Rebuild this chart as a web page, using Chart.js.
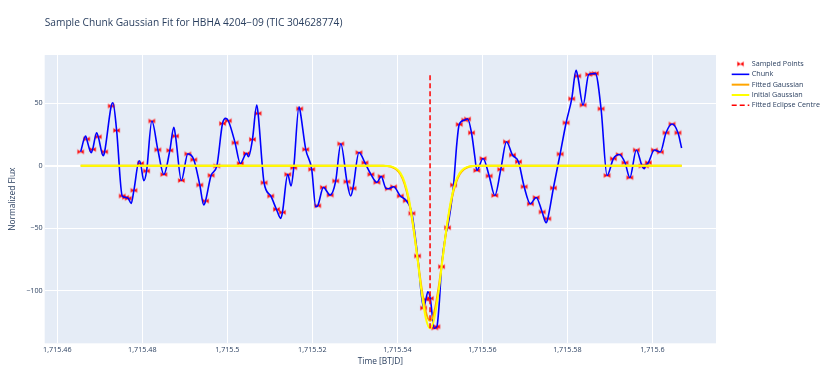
<!DOCTYPE html>
<html>
<head>
<meta charset="utf-8">
<title>Sample Chunk Gaussian Fit</title>
<script src="https://cdn.jsdelivr.net/npm/chart.js@4/dist/chart.umd.min.js"></script>
<style>
  html, body { margin: 0; padding: 0; background: #fff; }
  #wrap { width: 830px; height: 388px; }
</style>
</head>
<body>
<div id="wrap"><canvas id="Chart" width="830" height="388"></canvas></div>
<script>
// values
var chunkTime = [1715.4655, 1715.46667, 1715.46691, 1715.46799, 1715.46832, 1715.46926, 1715.46964, 1715.47081, 1715.47114, 1715.47269,
  1715.47309, 1715.47396, 1715.47528, 1715.47607, 1715.47669, 1715.47739, 1715.47802, 1715.47927, 1715.4796, 1715.48037,
  1715.48101, 1715.48225, 1715.48366, 1715.48507, 1715.48648, 1715.48742, 1715.48782, 1715.48919, 1715.49071, 1715.49212,
  1715.49353, 1715.49447, 1715.49487, 1715.49619, 1715.49753, 1715.49887, 1715.49964, 1715.50023, 1715.50183, 1715.50305,
  1715.50451, 1715.50498, 1715.50592, 1715.50693, 1715.50724, 1715.50865, 1715.51022, 1715.51156, 1715.51257, 1715.51297,
  1715.51422, 1715.51499, 1715.51563, 1715.51687, 1715.51704, 1715.51845, 1715.51986, 1715.5208, 1715.52127, 1715.5226,
  1715.5242, 1715.5255, 1715.5267, 1715.52815, 1715.52902, 1715.52956, 1715.53097, 1715.53238, 1715.53379, 1715.5352,
  1715.5362, 1715.53732, 1715.53788, 1715.53913, 1715.5407, 1715.54211, 1715.54343, 1715.54477, 1715.54617, 1715.54672,
  1715.54719, 1715.54775, 1715.54869, 1715.5493, 1715.54986, 1715.5504, 1715.55142, 1715.55181, 1715.55322, 1715.554,
  1715.55456, 1715.55588, 1715.55651, 1715.55745, 1715.55823, 1715.5587, 1715.56016, 1715.56161, 1715.56293, 1715.56434,
  1715.56568, 1715.56709, 1715.5685, 1715.56984, 1715.5713, 1715.57266, 1715.57407, 1715.57501, 1715.57539, 1715.57672,
  1715.5783, 1715.57971, 1715.58103, 1715.58206, 1715.58244, 1715.5837, 1715.58502, 1715.58596, 1715.58659, 1715.58793,
  1715.58934, 1715.59082, 1715.5922, 1715.59357, 1715.5947, 1715.59623, 1715.59757, 1715.59811, 1715.59835, 1715.59905,
  1715.60046, 1715.60187, 1715.60321, 1715.60462, 1715.60603, 1715.60688];
var chunkFlux = [11.2, 23.8, 21.4, 10.4, 13.1, 26.4, 23.2, 8.0, 11.2, 47.8,
  50.4, 28.3, -24.2, -25.3, -26.1, -30.1, -19.7, 4.0, 1.9, -12.0,
  -4.2, 35.8, 12.8, -7.0, 12.3, 30.7, 23.8, -11.8, 9.5, 4.8,
  -15.4, -31.4, -28.2, -7.7, -0.2, 33.8, 37.9, 36.0, 18.4, 1.8,
  9.9, 7.2, 21.1, 48.6, 41.9, -13.6, -24.2, -34.9, -42.1, -37.3,
  -6.9, -16.2, -1.6, 47.2, 45.6, 13.1, -2.9, -32.8, -32.0, -17.3,
  -23.5, -12.2, 17.6, -12.8, -24.2, -18.1, 10.6, 2.4, -6.9, -13.3,
  -8.5, -18.1, -18.4, -16.8, -24.2, -28.0, -38.1, -72.2, -113.8, -106.9,
  -100.8, -106.1, -130.1, -128.8, -110.1, -80.8, -54.1, -49.6, -15.4, 17.9,
  33.1, 36.6, 37.6, 26.4, 7.2, -3.8, 5.8, -8.2, -23.8, -2.9,
  19.2, 8.6, 3.2, -16.8, -30.5, -25.4, -37.0, -45.6, -42.4, -17.8,
  9.4, 34.4, 53.6, 76.3, 71.8, 48.6, 73.1, 73.6, 73.9, 45.6,
  -7.8, 5.6, 9.0, 2.4, -9.5, 12.6, -0.2, -2.4, -0.2, 2.4,
  12.6, 11.0, 26.4, 33.4, 26.4, 14.2];

var sampleTime = [1715.4655, 1715.46691, 1715.46832, 1715.46964, 1715.47114, 1715.47269, 1715.47396, 1715.47528, 1715.47607, 1715.47669,
  1715.47802, 1715.4796, 1715.48101, 1715.48225, 1715.48366, 1715.48507, 1715.48648, 1715.48782, 1715.48919, 1715.49071,
  1715.49212, 1715.49353, 1715.49487, 1715.49619, 1715.49753, 1715.49887, 1715.50023, 1715.50183, 1715.50305, 1715.50451,
  1715.50592, 1715.50724, 1715.50865, 1715.51022, 1715.51156, 1715.51297, 1715.51422, 1715.51563, 1715.51704, 1715.51845,
  1715.51986, 1715.52127, 1715.5226, 1715.5242, 1715.5255, 1715.5267, 1715.52815, 1715.52956, 1715.53097, 1715.53238,
  1715.53379, 1715.5352, 1715.5362, 1715.53788, 1715.53913, 1715.5407, 1715.54211, 1715.54343, 1715.54477, 1715.54617,
  1715.54672, 1715.54775, 1715.54883, 1715.5493, 1715.5504, 1715.55181, 1715.55322, 1715.55456, 1715.55588, 1715.55651,
  1715.55745, 1715.5587, 1715.56016, 1715.56161, 1715.56293, 1715.56434, 1715.56568, 1715.56709, 1715.5685, 1715.56984,
  1715.5713, 1715.57266, 1715.57407, 1715.57539, 1715.57672, 1715.5783, 1715.57971, 1715.58103, 1715.58244, 1715.5837,
  1715.58502, 1715.58596, 1715.58659, 1715.58793, 1715.58934, 1715.59082, 1715.5922, 1715.59357, 1715.5947, 1715.59623,
  1715.59757, 1715.59835, 1715.59905, 1715.60046, 1715.60187, 1715.60321, 1715.60462, 1715.60603];
var sampleFlux = [11.2, 21.4, 13.1, 23.2, 11.2, 47.8, 28.3, -24.2, -25.3, -26.1,
  -19.7, 1.9, -4.2, 35.8, 12.8, -7.0, 12.3, 23.8, -11.8, 9.5,
  4.8, -15.4, -28.2, -7.7, -0.2, 33.8, 36.0, 18.4, 1.8, 9.9,
  21.1, 41.9, -13.6, -24.2, -34.9, -37.3, -6.9, -1.6, 45.6, 13.1,
  -2.9, -32.0, -17.3, -23.5, -12.2, 17.6, -12.8, -18.1, 10.6, 2.4,
  -6.9, -13.3, -8.5, -18.4, -16.8, -24.2, -28.0, -38.1, -72.2, -113.8,
  -106.9, -106.1, -129.8, -128.8, -80.8, -49.6, -15.4, 33.1, 36.6, 37.4,
  26.4, -3.8, 5.8, -8.2, -23.8, -2.9, 19.2, 8.6, 3.2, -16.8,
  -30.5, -25.4, -37.0, -42.4, -17.8, 9.4, 34.4, 53.6, 71.8, 48.6,
  73.1, 73.6, 73.9, 45.6, -7.8, 5.6, 9.0, 2.4, -9.5, 12.6,
  -0.2, -0.2, 2.4, 12.6, 11.0, 26.4, 33.4, 26.4];

var gaussTime = [1715.4655, 1715.5367, 1715.5377, 1715.5387, 1715.5397, 1715.5407, 1715.5417, 1715.5427, 1715.5437, 1715.5447,
  1715.5457, 1715.5467, 1715.5477, 1715.5487, 1715.5497, 1715.5507, 1715.5517, 1715.5527, 1715.5537, 1715.5547,
  1715.5557, 1715.5567, 1715.5577, 1715.5587, 1715.6069];
var fittedFlux = [0, 0, -0.3, -1.0, -2.8, -6.7, -14.6, -28.1, -47.9, -72.6,
  -97.7, -116.8, -124, -116.8, -97.7, -72.6, -47.9, -28.1, -14.6, -6.7,
  -2.8, -1.0, -0.3, 0, 0];
var initialFlux = [0, 0, -0.2, -0.7, -2.2, -5.7, -13.1, -26.4, -47, -73,
  -101, -122, -130, -122, -101, -73, -47, -26.4, -13.1, -5.7,
  -2.2, -0.7, -0.2, 0, 0];

var eclipseTime = [1715.5477, 1715.5477];
var eclipseFlux = [-130.1, 74.0];

var xTickValues = [1715.46, 1715.48, 1715.5, 1715.52, 1715.54, 1715.56, 1715.58, 1715.6];
var xTickLabels = ['1,715.46', '1,715.48', '1,715.5', '1,715.52', '1,715.54', '1,715.56', '1,715.58', '1,715.6'];
var yTickValues = [-100, -50, 0, 50];
var yTickLabels = ['\u2212100', '\u221250', '0', '50'];

var seriesNames = ['Sampled Points', 'Chunk', 'Fitted Gaussian', 'Initial Gaussian', 'Fitted Eclipse Centre'];

var textColor = '#2a3f5f';
var fontFamily = '"Open Sans", verdana, arial, sans-serif';

function toPoints(xs, ys) {
  return xs.map(function (x, i) { return { x: x, y: ys[i] }; });
}

// bowtie marker like the plotly symbol
function makeBowtie() {
  var c = document.createElement('canvas');
  c.width = 9;
  c.height = 7;
  var g = c.getContext('2d');
  g.beginPath();
  g.moveTo(1.5, 1.5); g.lineTo(1.5, 5.5); g.lineTo(4.5, 3.5); g.closePath();
  g.moveTo(7.5, 1.5); g.lineTo(7.5, 5.5); g.lineTo(4.5, 3.5); g.closePath();
  g.fillStyle = '#ff0000';
  g.fill();
  g.strokeStyle = 'rgba(255, 0, 0, 0.3)';
  g.lineWidth = 1.2;
  g.stroke();
  return c;
}
var bowtie = makeBowtie();

// light blue plot background
var plotBg = {
  id: 'plotBg',
  beforeDraw: function (chart) {
    var a = chart.chartArea;
    chart.ctx.save();
    chart.ctx.fillStyle = '#E5ECF6';
    chart.ctx.fillRect(a.left, a.top, a.right - a.left, a.bottom - a.top);
    chart.ctx.restore();
  }
};

// legend on the right, placed like the plotly one
var sideLegend = {
  id: 'sideLegend',
  afterDraw: function (chart) {
    var ctx = chart.ctx;
    chart.data.datasets.forEach(function (ds, i) {
      var y = 64 + i * 10.33;
      ctx.save();
      if (ds.showLine === false) {
        ctx.drawImage(bowtie, 740.5 - bowtie.width / 2, y - bowtie.height / 2);
      } else {
        ctx.strokeStyle = ds.borderColor;
        ctx.lineWidth = ds.borderWidth;
        ctx.setLineDash(ds.borderDash || []);
        ctx.beginPath();
        ctx.moveTo(731.7, y);
        ctx.lineTo(749.3, y);
        ctx.stroke();
      }
      ctx.setLineDash([]);
      ctx.fillStyle = textColor;
      ctx.font = '7.2px ' + fontFamily;
      ctx.textBaseline = 'middle';
      ctx.textAlign = 'left';
      ctx.fillText(ds.label, 751.7, y);
      ctx.restore();
    });
  }
};

Chart.defaults.font.family = fontFamily;
Chart.defaults.color = textColor;

var ctx = document.getElementById('Chart').getContext('2d');
var myChart = new Chart(ctx, {
  type: 'line',
  data: {
    datasets: [{
      label: seriesNames[0],
      data: toPoints(sampleTime, sampleFlux),
      showLine: false,
      pointStyle: bowtie,
      pointRadius: 4,
      order: 5
    }, {
      label: seriesNames[1],
      data: toPoints(chunkTime, chunkFlux),
      borderColor: '#0000ff',
      borderWidth: 1.6,
      pointRadius: 0,
      cubicInterpolationMode: 'monotone',
      order: 4
    }, {
      label: seriesNames[2],
      data: toPoints(gaussTime, fittedFlux),
      borderColor: '#ffa500',
      borderWidth: 2,
      pointRadius: 0,
      cubicInterpolationMode: 'monotone',
      order: 3
    }, {
      label: seriesNames[3],
      data: toPoints(gaussTime, initialFlux),
      borderColor: '#ffff00',
      borderWidth: 2,
      pointRadius: 0,
      cubicInterpolationMode: 'monotone',
      order: 2
    }, {
      label: seriesNames[4],
      data: toPoints(eclipseTime, eclipseFlux),
      borderColor: '#ff0000',
      borderWidth: 1.5,
      borderDash: [5, 3],
      pointRadius: 0,
      order: 1
    }]
  },
  options: {
    responsive: false,
    animation: false,
    devicePixelRatio: 1,
    layout: { padding: { left: 0, right: 114, top: 0, bottom: 0 } },
    plugins: {
      legend: { display: false },
      tooltip: { enabled: false },
      title: {
        display: true,
        text: 'Sample Chunk Gaussian Fit for HBHA 4204\u221209 (TIC 304628774)',
        align: 'start',
        fullSize: false,
        color: textColor,
        font: { size: 10.2, weight: 'normal' },
        padding: { top: 17, bottom: 25.8 }
      }
    },
    scales: {
      x: {
        type: 'linear',
        min: 1715.45704,
        max: 1715.61497,
        afterBuildTicks: function (s) {
          s.ticks = xTickValues.map(function (v) { return { value: v }; });
        },
        afterFit: function (s) { s.height = 44.7; },
        ticks: {
          autoSkip: false,
          maxRotation: 0,
          padding: 2.5,
          color: textColor,
          font: { size: 7.2 },
          callback: function (v, i) { return xTickLabels[i]; }
        },
        grid: { color: '#ffffff', lineWidth: 1, drawTicks: false },
        border: { display: false },
        title: {
          display: true,
          text: 'Time [BTJD]',
          color: textColor,
          font: { size: 8.4 },
          padding: { top: 0, bottom: 21 }
        }
      },
      y: {
        type: 'linear',
        min: -142.1,
        max: 88.6,
        afterBuildTicks: function (s) {
          s.ticks = yTickValues.map(function (v) { return { value: v }; });
        },
        afterFit: function (s) { s.width = 44.7; },
        ticks: {
          padding: 2,
          color: textColor,
          font: { size: 7.2 },
          callback: function (v, i) { return yTickLabels[i]; }
        },
        grid: {
          color: '#ffffff',
          lineWidth: function (c) { return c.tick && c.tick.value === 0 ? 2 : 1; },
          drawTicks: false
        },
        border: { display: false },
        title: {
          display: true,
          text: 'Normalized Flux',
          color: textColor,
          font: { size: 8.4 },
          padding: { top: 8, bottom: 0 }
        }
      }
    }
  },
  plugins: [plotBg, sideLegend]
});
</script>
</body>
</html>
